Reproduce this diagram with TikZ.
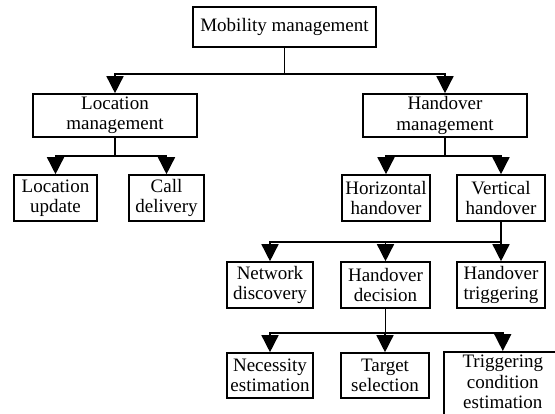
\documentclass[tikz,border=0pt]{standalone}
\usepackage{fontspec}
\setmainfont{Liberation Serif}
\usetikzlibrary{arrows.meta}
\begin{document}
\begin{tikzpicture}[x=1pt,y=-1pt,
  box/.style={draw, line width=1.6pt, inner sep=0pt, align=center,
    font=\fontsize{19}{20.5}\selectfont},
  conn/.style={line width=1.5pt, -{Triangle[width=17pt,length=17pt]}}]
\clip (0,0) rectangle (555,413);
\fill[white] (0,0) rectangle (555,413);
\newcommand\mybox[6]{\node[box, minimum width={(#4-#2)*1pt}, minimum height={(#5-#3)*1pt}] (#1) at ({(#2+#4)/2},{(#3+#5)/2}) {#6};}
% row 1
\mybox{mob}{193}{7}{376}{47}{Mobility management}
% row 2
\mybox{lm}{33}{94}{197}{137}{Location\\management}
\mybox{hm}{363}{94}{527}{137}{Handover\\management}
% row 3
\mybox{lu}{14}{175}{97}{221}{Location\\update}
\mybox{cd}{129}{175}{204}{221}{Call\\delivery}
\mybox{hh}{342}{175}{430}{221}{Horizontal\\handover}
\mybox{vh}{457}{175}{545}{221}{Vertical\\handover}
% row 4
\mybox{nd}{227}{262}{313}{308}{Network\\discovery}
\mybox{hd}{341}{262}{430}{308}{Handover\\decision}
\mybox{ht}{457}{262}{545}{308}{Handover\\triggering}
% row 5
\mybox{ne}{227}{353}{313}{398}{Necessity\\estimation}
\mybox{ts}{341}{353}{429}{398}{Target\\selection}
\node[box, minimum width=118pt, minimum height=80pt, anchor=north west] (tce) at (443,351) {};
\node[anchor=north, align=center, inner sep=0pt, font=\fontsize{19}{20.5}\selectfont] (tcet) at (tce.north) [yshift=-4pt] {Triggering\\condition\\estimation};
% connectors
\draw[conn] (mob.south) -- ++(0,26) -| (lm.north);
\draw[conn] (mob.south) -- ++(0,26) -| (hm.north);
\draw[conn] (lm.south) -- ++(0,18) -| (lu.north);
\draw[conn] (lm.south) -- ++(0,18) -| (cd.north);
\draw[conn] (hm.south) -- ++(0,18) -| (hh.north);
\draw[conn] (hm.south) -- ++(0,18) -| (vh.north);
\draw[conn] (vh.south) -- ++(0,20) -| (nd.north);
\draw[conn] (vh.south) -- ++(0,20) -| (hd.north);
\draw[conn] (vh.south) -- (ht.north);
\draw[conn] (hd.south) -- ++(0,24) -| (ne.north);
\draw[conn] (hd.south) -- ++(0,24) -| (ts.north);
\draw[conn] (hd.south) -- ++(0,24) -| (tce.north);
\end{tikzpicture}
\end{document}
